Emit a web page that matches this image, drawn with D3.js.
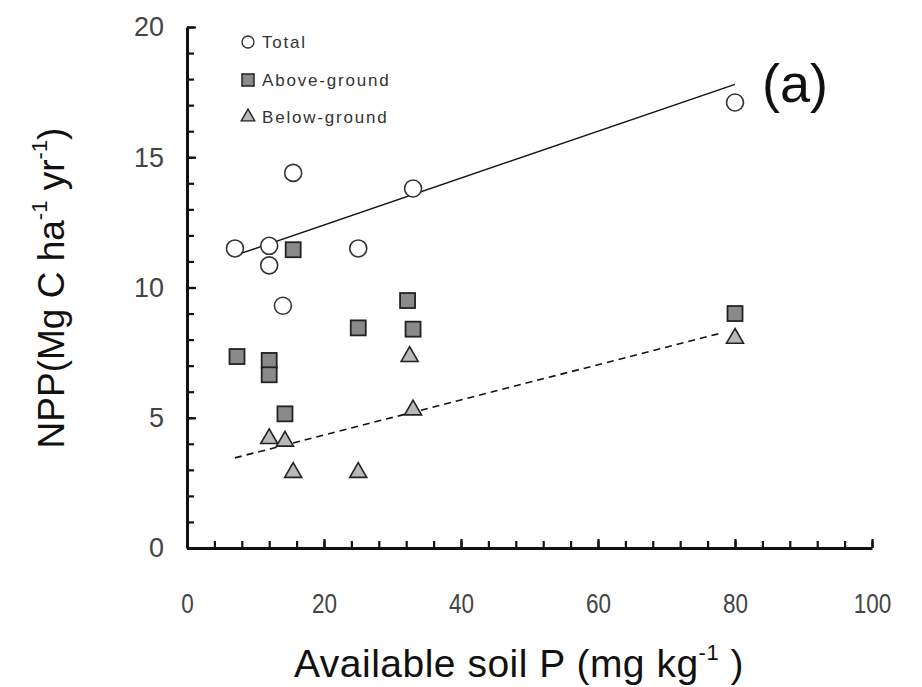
<!DOCTYPE html>
<html>
<head>
<meta charset="utf-8">
<script src="https://cdn.jsdelivr.net/npm/d3@7"></script>
<style>
  html, body { margin: 0; padding: 0; background: #fff; }
  svg { display: block; }
</style>
</head>
<body>
<div id="chart"></div>
<script>
// ── NPP vs available soil P — panel (a) ─────────────────

// Data
const totalP   = [7, 12, 12, 14, 15.5, 25, 33, 80];
const totalNPP = [11.5, 11.6, 10.85, 9.3, 14.4, 11.5, 13.8, 17.1];

const aboveP   = [7.3, 12, 12, 14.3, 15.5, 25, 32.2, 33, 80];
const aboveNPP = [7.35, 7.2, 6.65, 5.15, 11.45, 8.45, 9.5, 8.4, 9.0];

const belowP   = [12, 14.3, 15.5, 25, 32.5, 33, 80];
const belowNPP = [4.2, 4.1, 2.9, 2.9, 7.35, 5.3, 8.05];

// Fitted lines (end points)
const totalFit = [[7, 11.23], [80, 17.8]];
const belowFit = [[7, 3.46], [78, 8.25]];

const xMajor = [0, 20, 40, 60, 80, 100];
const xMinor = d3.range(0, 101, 4);
const yMajor = [0, 5, 10, 15, 20];
const yMinor = d3.range(0, 21, 1);

const legendItems = ['Total', 'Above-ground', 'Below-ground'];

// ── Layout
const width = 922, height = 687;
const plotLeft = 187, plotRight = 872, plotTop = 27, plotBottom = 548;

const svg = d3.select('#chart').append('svg')
    .attr('width', width)
    .attr('height', height);

const x = d3.scaleLinear().domain([0, 100]).range([plotLeft, plotRight]);
const y = d3.scaleLinear().domain([0, 20]).range([plotBottom, plotTop]);

const tickFont = "'Liberation Sans', Arial, sans-serif";
const labelFont = "'Liberation Sans', Arial, Helvetica, sans-serif";

// Minor ticks
svg.append('g')
    .attr('transform', `translate(0,${plotBottom})`)
    .call(d3.axisBottom(x).tickValues(xMinor).tickSize(-7).tickFormat(''))
    .call(g => g.select('.domain').remove())
    .selectAll('line').attr('stroke', '#111').attr('stroke-width', 2.2);

svg.append('g')
    .attr('transform', `translate(${plotLeft},0)`)
    .call(d3.axisLeft(y).tickValues(yMinor).tickSize(-7).tickFormat(''))
    .call(g => g.select('.domain').remove())
    .selectAll('line').attr('stroke', '#111').attr('stroke-width', 2.2);

// Major ticks + labels
const xAxis = svg.append('g')
    .attr('transform', `translate(0,${plotBottom})`)
    .call(d3.axisBottom(x).tickValues(xMajor).tickSize(-9).tickSizeOuter(0).tickPadding(45));
xAxis.select('.domain').attr('stroke', '#111').attr('stroke-width', 3.2);
xAxis.selectAll('line').attr('stroke', '#111').attr('stroke-width', 2.2);
xAxis.selectAll('text')
    .attr('font-family', tickFont)
    .attr('font-size', 28)
    .attr('fill', '#444')
    .attr('textLength', d => String(d).length * 12.5)
    .attr('lengthAdjust', 'spacingAndGlyphs');

const yAxis = svg.append('g')
    .attr('transform', `translate(${plotLeft},0)`)
    .call(d3.axisLeft(y).tickValues(yMajor).tickSize(-9).tickSizeOuter(0).tickPadding(23));
yAxis.select('.domain').attr('stroke', '#111').attr('stroke-width', 3);
yAxis.selectAll('line').attr('stroke', '#111').attr('stroke-width', 2.2);
yAxis.selectAll('text')
    .attr('font-family', tickFont)
    .attr('font-size', 28)
    .attr('fill', '#444')
    .attr('textLength', d => String(d).length * 15)
    .attr('lengthAdjust', 'spacingAndGlyphs');

// ── Fit lines
const line = d3.line().x(d => x(d[0])).y(d => y(d[1]));

svg.append('path')
    .attr('d', line(totalFit))
    .attr('fill', 'none')
    .attr('stroke', '#111')
    .attr('stroke-width', 1.4);

svg.append('path')
    .attr('d', line(belowFit))
    .attr('fill', 'none')
    .attr('stroke', '#111')
    .attr('stroke-width', 1.6)
    .attr('stroke-dasharray', '7,5');

// ── Markers
const sqSide = 15;
const triangle = d3.symbol().type(d3.symbolTriangle).size(125);

svg.append('g')
    .selectAll('rect')
    .data(d3.zip(aboveP, aboveNPP))
    .join('rect')
    .attr('x', d => x(d[0]) - sqSide / 2)
    .attr('y', d => y(d[1]) - sqSide / 2)
    .attr('width', sqSide)
    .attr('height', sqSide)
    .attr('fill', '#8a8a8a')
    .attr('stroke', '#222')
    .attr('stroke-width', 1.8);

svg.append('g')
    .selectAll('path')
    .data(d3.zip(belowP, belowNPP))
    .join('path')
    .attr('d', triangle)
    .attr('transform', d => `translate(${x(d[0])},${y(d[1])})`)
    .attr('fill', '#b8b8b8')
    .attr('stroke', '#222')
    .attr('stroke-width', 1.6);

svg.append('g')
    .selectAll('circle')
    .data(d3.zip(totalP, totalNPP))
    .join('circle')
    .attr('cx', d => x(d[0]))
    .attr('cy', d => y(d[1]))
    .attr('r', 8.5)
    .attr('fill', '#fff')
    .attr('stroke', '#333')
    .attr('stroke-width', 1.6);

// ── Legend
const legend = svg.append('g').attr('transform', 'translate(248,0)');
const legendY = [42, 80, 117];

legend.append('circle')
    .attr('cx', 0).attr('cy', legendY[0]).attr('r', 6)
    .attr('fill', '#fff').attr('stroke', '#333').attr('stroke-width', 1.4);
legend.append('rect')
    .attr('x', -6).attr('y', legendY[1] - 6).attr('width', 12).attr('height', 12)
    .attr('fill', '#8a8a8a').attr('stroke', '#222').attr('stroke-width', 1.5);
legend.append('path')
    .attr('d', d3.symbol().type(d3.symbolTriangle).size(80)())
    .attr('transform', `translate(0,${legendY[2]})`)
    .attr('fill', '#b8b8b8').attr('stroke', '#222').attr('stroke-width', 1.4);

legend.selectAll('text')
    .data(legendItems)
    .join('text')
    .attr('x', 14)
    .attr('y', (d, i) => legendY[i])
    .attr('dy', '0.36em')
    .attr('font-family', labelFont)
    .attr('font-size', 17)
    .attr('letter-spacing', 1.8)
    .attr('fill', '#333')
    .text(d => d);

// ── Panel tag
svg.append('text')
    .attr('x', 795)
    .attr('y', 102)
    .attr('text-anchor', 'middle')
    .attr('font-family', labelFont)
    .attr('font-size', 54)
    .attr('fill', '#111')
    .text('(a)');

// ── Axis titles
const xTitle = svg.append('text')
    .attr('x', 519)
    .attr('y', 677)
    .attr('text-anchor', 'middle')
    .attr('font-family', labelFont)
    .attr('font-size', 39)
    .attr('letter-spacing', 0.5)
    .attr('fill', '#111');
xTitle.append('tspan').text('Available soil P (mg kg');
xTitle.append('tspan').attr('font-size', 22).attr('dy', -17).text('-1');
xTitle.append('tspan').attr('dy', 17).text(' )');

const yTitle = svg.append('text')
    .attr('transform', 'translate(64,288) rotate(-90)')
    .attr('text-anchor', 'middle')
    .attr('font-family', labelFont)
    .attr('font-size', 37)
    .attr('fill', '#111');
yTitle.append('tspan').text('NPP(Mg C ha');
yTitle.append('tspan').attr('font-size', 22).attr('dy', -17).text('-1');
yTitle.append('tspan').attr('dy', 17).text(' yr');
yTitle.append('tspan').attr('font-size', 22).attr('dy', -17).text('-1');
yTitle.append('tspan').attr('dy', 17).text(')');
</script>
</body>
</html>
